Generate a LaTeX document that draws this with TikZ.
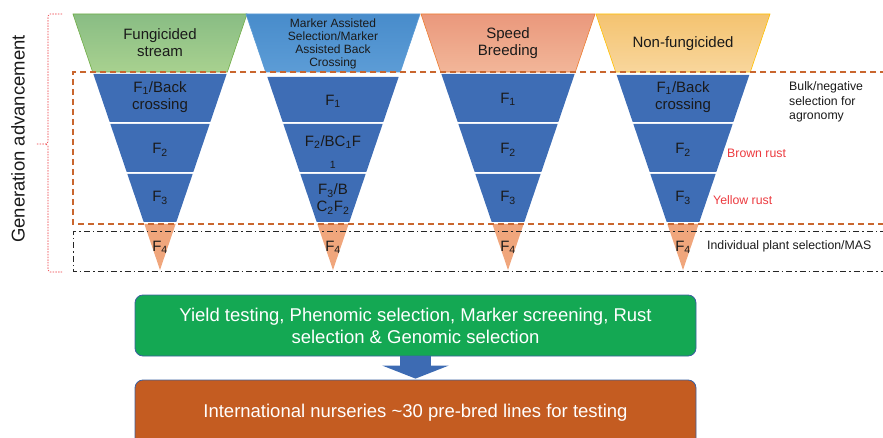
\documentclass[tikz,border=0pt]{standalone}
\usepackage{fontspec}
\setmainfont{Liberation Sans}
\usetikzlibrary{arrows.meta}
\definecolor{fblue}{HTML}{3E6DB5}
\definecolor{forange}{HTML}{F0A67C}
\definecolor{dashor}{HTML}{C9662E}
\definecolor{rustred}{HTML}{EC3A3F}
\definecolor{boxgreen}{HTML}{14A853}
\definecolor{boxorange}{HTML}{C45C21}
\definecolor{boxedge}{HTML}{3B5FA0}
\definecolor{arrowblue}{HTML}{3D6BB3}
\definecolor{txt}{HTML}{1A1A1A}
\definecolor{gtop}{RGB}{137,189,132}
\definecolor{gbot}{RGB}{168,209,143}
\definecolor{gedge}{RGB}{112,173,71}
\definecolor{btop}{RGB}{72,140,203}
\definecolor{bbot}{RGB}{92,156,214}
\definecolor{bedge}{RGB}{91,155,213}
\definecolor{stop}{RGB}{234,152,124}
\definecolor{sbot}{RGB}{242,182,153}
\definecolor{sedge}{RGB}{237,125,49}
\definecolor{ytop}{RGB}{244,195,112}
\definecolor{ybot}{RGB}{248,214,156}
\definecolor{yedge}{RGB}{255,192,0}
\newcommand{\fseg}[4]{%
  \path[#4] ({#1-0.34*(270-#2)},#2) -- ({#1+0.34*(270-#2)},#2) -- ({#1+0.34*(270-#3)},#3) -- ({#1-0.34*(270-#3)},#3) -- cycle;}
\newcommand{\ftip}[1]{%
  \path[fill=forange] ({#1-0.34*46},224) -- ({#1+0.34*46},224) -- (#1,270) -- cycle;}
\newcommand{\funnelbody}[2]{%
  \fseg{#1}{#2}{122}{fill=fblue}
  \fseg{#1}{124}{172}{fill=fblue}
  \fseg{#1}{174}{222}{fill=fblue}
  \ftip{#1}}
\tikzset{
  lbl/.style={align=center, inner sep=0pt, text=txt, font=\fontsize{15}{17}\selectfont},
  smalllbl/.style={align=center, inner sep=0pt, text=txt, font=\fontsize{12}{12.8}\selectfont},
  sidelbl/.style={align=left, inner sep=0pt, text=txt, font=\fontsize{12.3}{14.6}\selectfont},
  rustlbl/.style={inner sep=0pt, text=rustred, font=\fontsize{12.3}{14}\selectfont},
  bigbox/.style={rounded corners=8pt, draw=boxedge, line width=0.8pt, minimum width=561pt, text=white, align=center, font=\fontsize{18.5}{22}\selectfont},
  orangedash/.style={draw=dashor, line width=1.4pt, dash pattern=on 6pt off 4pt},
  dashdotline/.style={draw=black!85, line width=1pt, dash pattern=on 6pt off 3pt on 1.5pt off 3pt},
  bracered/.style={draw=rustred, line width=0.7pt, dash pattern=on 1.5pt off 1.2pt},
  toptrap/.style n args={3}{top color=#1, bottom color=#2, draw=#3, line width=0.6pt}
}
\begin{document}
\begin{tikzpicture}[x=1pt,y=-1pt]
\useasboundingbox (0,0) rectangle (883,438);
% top trapezoids
\fseg{160}{14}{72}{toptrap={gtop}{gbot}{gedge}}
\fseg{333}{14}{72}{toptrap={btop}{bbot}{bedge}}
\fseg{508}{14}{72}{toptrap={stop}{sbot}{sedge}}
\fseg{683}{14}{72}{toptrap={ytop}{ybot}{yedge}}
% funnel bodies
\funnelbody{160}{74}
\funnelbody{333}{77}
\funnelbody{508}{74}
\funnelbody{683}{75}
% dashed boxes
\draw[orangedash] (886,72) -- (73,72) -- (73,224) -- (886,224);
\draw[dashdotline] (886,232) -- (73,232) -- (73,272) -- (886,272);
% brace
\draw[bracered] (62,14) -- (50,14) -- (48,16) -- (48,142) -- (46,144) -- (36,144);
\draw[bracered] (46,144) -- (48,146) -- (48,270) -- (50,272) -- (62,272);
\node[rotate=90, inner sep=0pt, text=txt, font=\fontsize{18.5}{20}\selectfont] (gen) at (18,139) {Generation advancement};
% headers
\node[lbl] (h1) at (160,43) {Fungicided\\stream};
\node[smalllbl] (h2) at (333,44) {Marker Assisted\\Selection/Marker\\Assisted Back\\Crossing};
\node[lbl] (h3) at (508,43) {Speed\\Breeding};
\node[lbl] (h4) at (683,44) {Non-fungicided};
% F labels funnel 1
\node[lbl] (a1) at (160,97) {F\textsubscript{1}/Back\\crossing};
\node[lbl] (a2) at (160,150) {F\textsubscript{2}};
\node[lbl] (a3) at (160,198) {F\textsubscript{3}};
\node[lbl] (a4) at (160,247) {F\textsubscript{4}};
% funnel 2
\node[lbl] (b1) at (333,101) {F\textsubscript{1}};
\node[lbl, font=\fontsize{15}{20}\selectfont] (b2) at (333,152) {F\textsubscript{2}/BC\textsubscript{1}F\\\textsubscript{1}};
\node[lbl] (b3) at (333,199) {F\textsubscript{3}/B\\C\textsubscript{2}F\textsubscript{2}};
\node[lbl] (b4) at (333,247) {F\textsubscript{4}};
% funnel 3
\node[lbl] (c1) at (508,99) {F\textsubscript{1}};
\node[lbl] (c2) at (508,150) {F\textsubscript{2}};
\node[lbl] (c3) at (508,198) {F\textsubscript{3}};
\node[lbl] (c4) at (508,247) {F\textsubscript{4}};
% funnel 4
\node[lbl] (d1) at (683,97) {F\textsubscript{1}/Back\\crossing};
\node[lbl] (d2) at (683,150) {F\textsubscript{2}};
\node[lbl] (d3) at (683,198) {F\textsubscript{3}};
\node[lbl] (d4) at (683,247) {F\textsubscript{4}};
% side labels
\node[sidelbl, anchor=west] (bulk) at (789,102) {Bulk/negative\\selection for\\agronomy};
\node[rustlbl, anchor=west] (brown) at (727,153) {Brown rust};
\node[rustlbl, anchor=west] (yellow) at (713,200) {Yellow rust};
\node[sidelbl, anchor=west] (indiv) at (707,246) {Individual plant selection/MAS};
% bottom boxes
\node[bigbox, fill=boxgreen, minimum height=61pt] (yield) at (415.5,325.5) {Yield testing, Phenomic selection, Marker screening, Rust\\selection \& Genomic selection};
\node[bigbox, fill=boxorange, minimum height=66pt] (intl) at (415.5,413) {International nurseries \textasciitilde30 pre-bred lines for testing};
\draw[arrowblue, line width=31pt, -{Triangle[width=66pt,length=13pt]}] ([yshift=0.5pt]yield.south) -- ([yshift=1pt]intl.north);
\end{tikzpicture}
\end{document}
